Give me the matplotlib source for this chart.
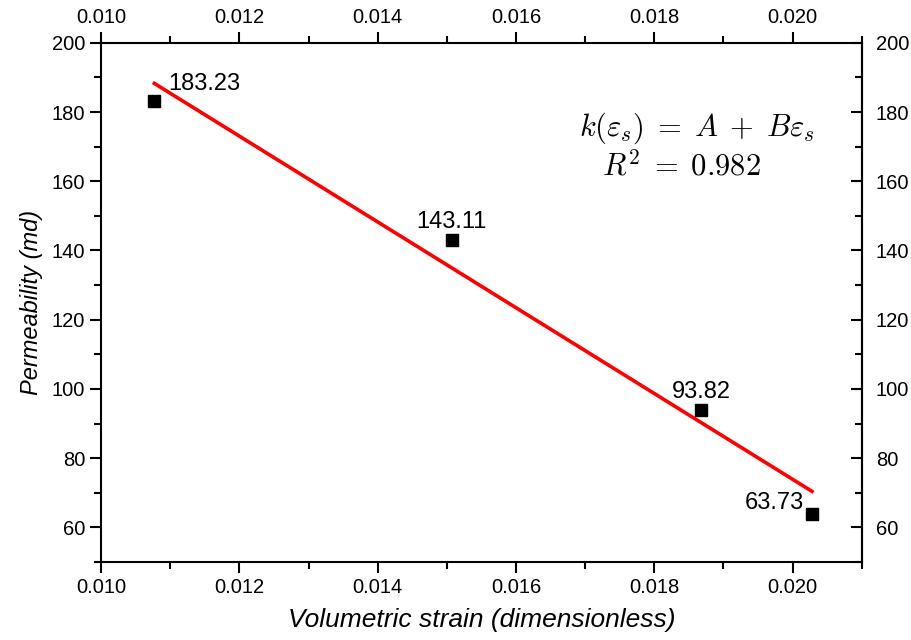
import numpy as np
import matplotlib
matplotlib.use("Agg")
import matplotlib.pyplot as plt
from matplotlib.ticker import MultipleLocator, FormatStrFormatter

plt.rcParams['font.family'] = ['Liberation Sans', 'DejaVu Sans']
plt.rcParams['mathtext.fontset'] = 'cm'

# Measured volumetric strain vs permeability
strain = [0.01077, 0.01507, 0.01868, 0.02028]
permeability = [183.23, 143.11, 93.82, 63.73]
point_labels = ["183.23", "143.11", "93.82", "63.73"]
r_squared = "0.982"

xticks = [0.010, 0.012, 0.014, 0.016, 0.018, 0.020]
yticks = [60, 80, 100, 120, 140, 160, 180, 200]

fig = plt.figure(figsize=(9.11, 6.4), dpi=100)
ax = fig.add_axes([0.111, 0.122, 0.835, 0.811])

# Linear fit k = A + B*eps
B, A = np.polyfit(strain, permeability, 1)
xf = np.array([strain[0], strain[-1]])
ax.plot(xf, A + B * xf, color='#ff0000', lw=2.6, zorder=2)

ax.scatter(strain, permeability, marker='s', s=85, color='black', zorder=3)

offsets = [(10, 8), (0, 8.6), (0, 8.6), (-5.8, 3.6)]
aligns = ['left', 'center', 'center', 'right']
for x, y, t, off, ha in zip(strain, permeability, point_labels, offsets, aligns):
    ax.annotate(t, (x, y), xytext=off, textcoords='offset points',
                ha=ha, va='baseline', fontsize=17)

ax.text(0.783, 0.836, r'$k(\varepsilon_s)\;=\;A\;+\;B\varepsilon_s$', transform=ax.transAxes,
        ha='center', va='center', fontsize=22)
ax.text(0.763, 0.761, r'$R^2\;=\;' + r_squared + '$', transform=ax.transAxes,
        ha='center', va='center', fontsize=22)

ax.set_xlim(0.010, 0.021)
ax.set_ylim(50, 200)
ax.set_xticks(xticks)
ax.set_yticks(yticks)
ax.xaxis.set_minor_locator(MultipleLocator(0.001))
ax.yaxis.set_minor_locator(MultipleLocator(10))
ax.xaxis.set_major_formatter(FormatStrFormatter('%.3f'))

for s in ax.spines.values():
    s.set_linewidth(1.5)

ax.tick_params(which='both', labelsize=14.5, width=1.5)
ax.tick_params(which='major', length=8)
ax.tick_params(which='minor', length=5)
ax.tick_params(axis='x', which='both', direction='out', top=True, labeltop=True, bottom=True)
ax.tick_params(axis='y', which='both', left=True, direction='out')

# Right-hand axis: inward ticks with mirrored labels
axr = ax.secondary_yaxis('right')
axr.set_yticks(yticks)
axr.yaxis.set_minor_locator(MultipleLocator(10))
axr.tick_params(which='both', direction='in', labelsize=14.5, width=1.5, pad=10)
axr.tick_params(which='major', length=8)
axr.tick_params(which='minor', length=5)
axr.spines['right'].set_linewidth(1.5)

ax.set_xlabel('Volumetric strain (dimensionless)', fontsize=19, style='italic', labelpad=8)
ax.set_ylabel('Permeability (md)', fontsize=17, style='italic', labelpad=6)

fig.savefig('out.png', dpi=100)
